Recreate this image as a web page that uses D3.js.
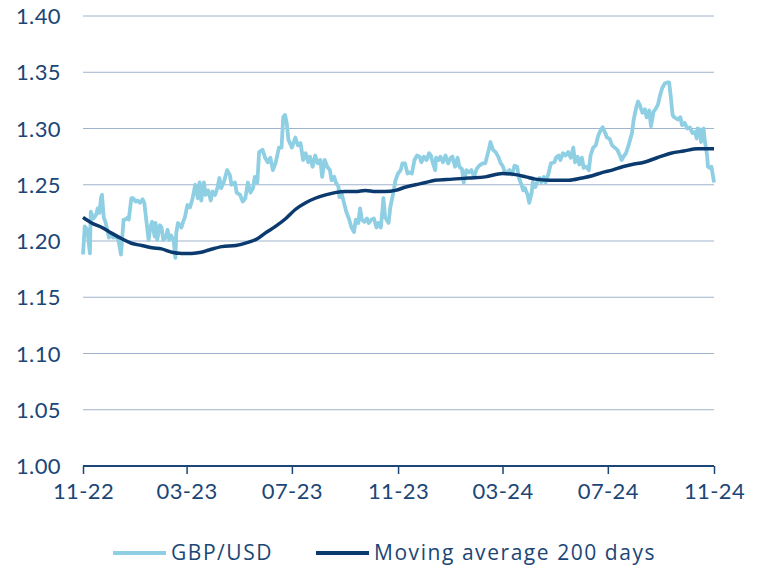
<!DOCTYPE html>
<html>
<head>
<meta charset="utf-8">
<script src="https://cdn.jsdelivr.net/npm/d3@7"></script>
<style>
  body { margin: 0; background: #fff; }
  svg text { font-family: Lato, "Open Sans", sans-serif; fill: #1b4675; }
</style>
</head>
<body>
<svg width="757" height="569"></svg>
<script>
var gbpDates = ["2022-11-01","2022-11-03","2022-11-06","2022-11-09","2022-11-10","2022-11-13","2022-11-16","2022-11-18","2022-11-20","2022-11-22",
"2022-11-23","2022-11-25","2022-11-27","2022-11-30","2022-12-01","2022-12-03","2022-12-06","2022-12-09","2022-12-12","2022-12-15",
"2022-12-18","2022-12-20","2022-12-23","2022-12-24","2022-12-27","2022-12-29","2023-01-01","2023-01-03","2023-01-06","2023-01-09",
"2023-01-11","2023-01-14","2023-01-16","2023-01-18","2023-01-20","2023-01-23","2023-01-24","2023-01-26","2023-01-29","2023-01-31",
"2023-02-02","2023-02-05","2023-02-07","2023-02-09","2023-02-11","2023-02-14","2023-02-16","2023-02-17","2023-02-19","2023-02-23",
"2023-02-25","2023-02-27","2023-03-02","2023-03-05","2023-03-08","2023-03-11","2023-03-14","2023-03-16","2023-03-18","2023-03-21",
"2023-03-23","2023-03-26","2023-03-29","2023-03-31","2023-04-03","2023-04-06","2023-04-08","2023-04-10","2023-04-13","2023-04-17",
"2023-04-20","2023-04-22","2023-04-26","2023-04-28","2023-05-02","2023-05-05","2023-05-08","2023-05-11","2023-05-14","2023-05-17",
"2023-05-19","2023-05-22","2023-05-24","2023-05-28","2023-05-31","2023-06-03","2023-06-06","2023-06-09","2023-06-12","2023-06-16",
"2023-06-19","2023-06-21","2023-06-23","2023-06-25","2023-06-27","2023-07-01","2023-07-05","2023-07-08","2023-07-11","2023-07-14",
"2023-07-17","2023-07-20","2023-07-22","2023-07-25","2023-07-28","2023-07-31","2023-08-03","2023-08-05","2023-08-08","2023-08-11",
"2023-08-14","2023-08-16","2023-08-19","2023-08-21","2023-08-24","2023-08-25","2023-08-27","2023-08-30","2023-09-02","2023-09-05",
"2023-09-08","2023-09-11","2023-09-13","2023-09-16","2023-09-18","2023-09-20","2023-09-23","2023-09-26","2023-09-28","2023-10-01",
"2023-10-04","2023-10-07","2023-10-09","2023-10-12","2023-10-14","2023-10-15","2023-10-17","2023-10-21","2023-10-23","2023-10-26",
"2023-10-29","2023-11-01","2023-11-04","2023-11-06","2023-11-09","2023-11-12","2023-11-14","2023-11-17","2023-11-20","2023-11-23",
"2023-11-26","2023-11-28","2023-12-01","2023-12-04","2023-12-07","2023-12-09","2023-12-11","2023-12-14","2023-12-15","2023-12-18",
"2023-12-20","2023-12-23","2023-12-26","2023-12-29","2024-01-01","2024-01-03","2024-01-06","2024-01-09","2024-01-11","2024-01-14",
"2024-01-16","2024-01-19","2024-01-22","2024-01-25","2024-01-28","2024-01-31","2024-02-03","2024-02-07","2024-02-10","2024-02-12",
"2024-02-15","2024-02-16","2024-02-19","2024-02-22","2024-02-25","2024-02-28","2024-03-01","2024-03-04","2024-03-06","2024-03-09",
"2024-03-12","2024-03-15","2024-03-18","2024-03-20","2024-03-23","2024-03-25","2024-03-27","2024-03-30","2024-04-01","2024-04-04",
"2024-04-05","2024-04-08","2024-04-10","2024-04-13","2024-04-15","2024-04-18","2024-04-20","2024-04-23","2024-04-26","2024-04-30",
"2024-05-02","2024-05-05","2024-05-07","2024-05-10","2024-05-13","2024-05-16","2024-05-19","2024-05-22","2024-05-24","2024-05-27",
"2024-05-29","2024-06-01","2024-06-03","2024-06-06","2024-06-09","2024-06-11","2024-06-14","2024-06-17","2024-06-20","2024-06-23",
"2024-06-25","2024-06-28","2024-06-30","2024-07-03","2024-07-06","2024-07-09","2024-07-12","2024-07-15","2024-07-17","2024-07-20",
"2024-07-22","2024-07-25","2024-07-29","2024-07-31","2024-08-03","2024-08-05","2024-08-07","2024-08-10","2024-08-13","2024-08-15",
"2024-08-18","2024-08-20","2024-08-23","2024-08-25","2024-08-28","2024-08-30","2024-09-02","2024-09-05","2024-09-08","2024-09-10",
"2024-09-12","2024-09-14","2024-09-16","2024-09-20","2024-09-23","2024-09-25","2024-09-28","2024-10-01","2024-10-04","2024-10-07",
"2024-10-10","2024-10-12","2024-10-13","2024-10-16","2024-10-17","2024-10-20","2024-10-21","2024-10-24","2024-10-25","2024-10-27",
"2024-10-29","2024-10-31","2024-11-01"];

var gbpValues = [1.188,1.213,1.210,1.189,1.226,1.220,1.223,1.229,1.225,1.239,
1.241,1.221,1.217,1.207,1.203,1.207,1.203,1.204,1.201,1.188,
1.219,1.219,1.221,1.219,1.238,1.238,1.235,1.236,1.234,1.237,
1.234,1.214,1.201,1.212,1.217,1.204,1.216,1.201,1.214,1.212,
1.201,1.203,1.210,1.201,1.205,1.201,1.185,1.207,1.216,1.212,
1.217,1.221,1.232,1.230,1.238,1.250,1.238,1.252,1.236,1.252,
1.241,1.245,1.236,1.244,1.241,1.248,1.256,1.247,1.252,1.263,
1.259,1.250,1.252,1.243,1.241,1.235,1.238,1.252,1.243,1.247,
1.257,1.252,1.279,1.281,1.274,1.270,1.274,1.263,1.269,1.283,
1.283,1.310,1.312,1.305,1.290,1.283,1.292,1.285,1.287,1.272,
1.278,1.270,1.275,1.266,1.276,1.269,1.272,1.257,1.272,1.266,
1.263,1.254,1.257,1.252,1.248,1.239,1.244,1.235,1.226,1.220,
1.212,1.208,1.219,1.216,1.229,1.219,1.217,1.220,1.216,1.219,
1.220,1.212,1.216,1.212,1.228,1.238,1.221,1.216,1.230,1.241,
1.254,1.260,1.263,1.269,1.269,1.260,1.261,1.260,1.272,1.276,
1.275,1.270,1.275,1.272,1.278,1.276,1.270,1.263,1.274,1.272,
1.275,1.270,1.276,1.269,1.274,1.275,1.266,1.274,1.266,1.264,
1.252,1.263,1.261,1.263,1.257,1.264,1.267,1.269,1.269,1.275,
1.284,1.288,1.281,1.279,1.275,1.269,1.267,1.261,1.261,1.263,
1.259,1.267,1.266,1.256,1.250,1.245,1.247,1.241,1.234,1.244,
1.252,1.248,1.252,1.256,1.252,1.257,1.252,1.259,1.269,1.270,
1.274,1.276,1.272,1.278,1.276,1.279,1.274,1.283,1.270,1.275,
1.268,1.274,1.265,1.266,1.263,1.276,1.283,1.285,1.294,1.299,
1.301,1.296,1.292,1.291,1.285,1.283,1.281,1.276,1.272,1.276,
1.278,1.285,1.296,1.308,1.319,1.324,1.321,1.314,1.317,1.310,
1.316,1.302,1.315,1.317,1.321,1.328,1.336,1.340,1.341,1.341,
1.328,1.312,1.310,1.308,1.310,1.303,1.305,1.300,1.301,1.296,
1.297,1.291,1.300,1.299,1.288,1.300,1.291,1.276,1.266,1.265,
1.266,1.257,1.252];

// 200-day moving average
var maDates = ["2022-11-01","2022-11-11","2022-11-23","2022-12-04","2022-12-16","2022-12-27","2023-01-08","2023-01-20","2023-01-31","2023-02-12",
"2023-02-23","2023-03-07","2023-03-18","2023-03-27","2023-04-11","2023-04-27","2023-05-12","2023-05-22","2023-05-31","2023-06-12",
"2023-06-24","2023-07-05","2023-07-17","2023-07-28","2023-08-09","2023-08-20","2023-09-01","2023-09-13","2023-09-24","2023-10-06",
"2023-10-17","2023-10-29","2023-11-10","2023-11-21","2023-12-03","2023-12-14","2024-01-03","2024-01-22","2024-02-10","2024-03-01",
"2024-03-16","2024-03-28","2024-04-08","2024-04-24","2024-05-07","2024-05-17","2024-06-01","2024-06-13","2024-06-25","2024-07-06",
"2024-07-18","2024-07-29","2024-08-12","2024-08-27","2024-09-12","2024-09-27","2024-10-13","2024-11-01"];

var maValues = [1.221,1.216,1.212,1.207,1.202,1.198,1.196,1.194,1.193,1.190,
1.189,1.189,1.190,1.192,1.195,1.196,1.199,1.202,1.207,1.213,
1.220,1.228,1.234,1.238,1.241,1.243,1.244,1.244,1.245,1.244,
1.244,1.245,1.248,1.250,1.252,1.254,1.255,1.256,1.257,1.260,
1.259,1.257,1.255,1.254,1.254,1.254,1.256,1.258,1.261,1.263,
1.266,1.268,1.270,1.274,1.278,1.280,1.282,1.282];

var yTicks = [1.00, 1.05, 1.10, 1.15, 1.20, 1.25, 1.30, 1.35, 1.40];
var xTickLabels = ["2022-11-01","2023-03-01","2023-07-01","2023-11-01","2024-03-01","2024-07-01","2024-11-01"];
var seriesNames = ["GBP/USD", "Moving average 200 days"];

var parse = d3.timeParse("%Y-%m-%d");
var gbp = gbpDates.map(function(d, i) { return {date: parse(d), value: gbpValues[i]}; });
var ma = maDates.map(function(d, i) { return {date: parse(d), value: maValues[i]}; });

var svg = d3.select("svg"),
    margin = {top: 16, right: 43, bottom: 103, left: 83},
    width = +svg.attr("width") - margin.left - margin.right,
    height = +svg.attr("height") - margin.top - margin.bottom;

var x = d3.scaleTime().domain([parse("2022-11-01"), parse("2024-11-01")]).range([0, width]);
var y = d3.scaleLinear().domain([1.00, 1.40]).range([height, 0]);

var g = svg.append("g").attr("transform", "translate(" + margin.left + "," + margin.top + ")");

// gridlines
g.selectAll(".grid")
    .data(yTicks.slice(1))
    .enter().append("line")
    .attr("class", "grid")
    .attr("x1", 0).attr("x2", width)
    .attr("y1", function(d) { return y(d); })
    .attr("y2", function(d) { return y(d); })
    .attr("stroke", "#9fb4cc")
    .attr("stroke-width", 1);

// y labels
g.selectAll(".ylab")
    .data(yTicks)
    .enter().append("text")
    .attr("class", "ylab")
    .attr("x", -22)
    .attr("y", function(d) { return y(d) + 8; })
    .attr("text-anchor", "end")
    .style("font-size", "22px")
    .style("letter-spacing", "0.4px")
    .text(function(d) { return d3.format(".2f")(d); });

// x axis
var xAxis = g.append("g")
    .attr("transform", "translate(0," + height + ")")
    .call(d3.axisBottom(x)
        .tickValues(xTickLabels.map(parse))
        .tickSize(8)
        .tickPadding(9)
        .tickFormat(d3.timeFormat("%m-%y")));
xAxis.select(".domain").attr("stroke", "#1b4675").attr("stroke-width", 2).attr("d", "M0,0H" + width);
xAxis.selectAll(".tick line").attr("stroke", "#1b4675").attr("stroke-width", 1.5);
xAxis.selectAll(".tick text")
    .style("font-size", "22px")
    .style("letter-spacing", "0.4px")
    .style("font-family", "Lato, 'Open Sans', sans-serif")
    .attr("fill", "#1b4675");

// lines
var line = d3.line()
    .x(function(d) { return x(d.date); })
    .y(function(d) { return y(d.value); });

g.append("path")
    .datum(gbp)
    .attr("fill", "none")
    .attr("stroke", "#8ecfe3")
    .attr("stroke-width", 3.8)
    .attr("stroke-linejoin", "round")
    .attr("d", line);

g.append("path")
    .datum(ma)
    .attr("fill", "none")
    .attr("stroke", "#0b3a6e")
    .attr("stroke-width", 3.5)
    .attr("stroke-linejoin", "round")
    .attr("d", line.curve(d3.curveMonotoneX));

// legend
var legendColors = ["#8ecfe3", "#0b3a6e"];
var legendX = [113, 316];
var legend = svg.selectAll(".legend")
    .data(seriesNames)
    .enter().append("g")
    .attr("class", "legend")
    .attr("transform", function(d, i) { return "translate(" + legendX[i] + ",553)"; });
legend.append("line")
    .attr("x1", 0).attr("x2", 53)
    .attr("stroke", function(d, i) { return legendColors[i]; })
    .attr("stroke-width", 4);
legend.append("text")
    .attr("x", 58)
    .attr("y", 7)
    .style("font-family", "'Open Sans', sans-serif")
    .style("font-size", "21px")
    .style("letter-spacing", "1.55px")
    .text(function(d) { return d; });
</script>
</body>
</html>
